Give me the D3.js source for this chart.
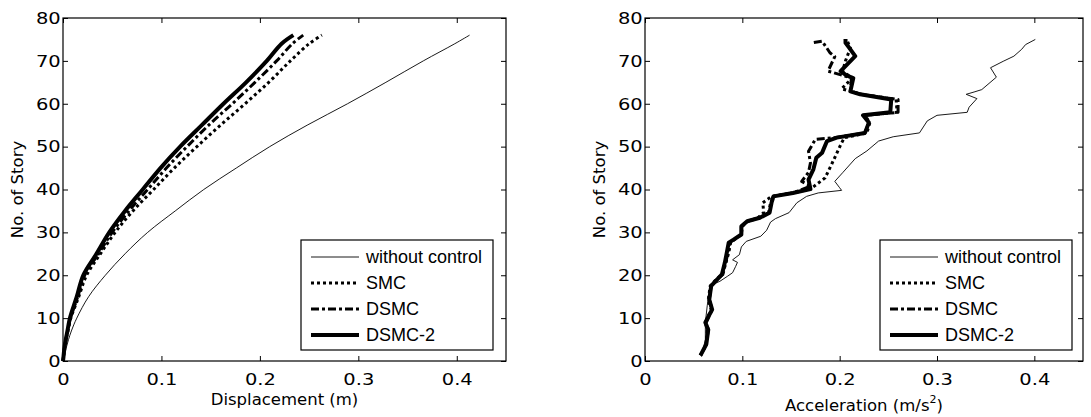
<!DOCTYPE html>
<html>
<head>
<meta charset="utf-8">
<script src="https://d3js.org/d3.v7.min.js"></script>
<style>
  body { margin: 0; background: #fff; }
  svg text { font-family: "DejaVu Sans", sans-serif; fill: #000; }
  .legend text { font-family: "Liberation Sans", Arial, sans-serif; font-size: 18px; }
</style>
</head>
<body>
<svg id="chart" width="1091" height="417"></svg>
<script>
// ---- data ----
const seriesNames = ["without control", "SMC", "DSMC", "DSMC-2"];
const xTicks = [0, 0.1, 0.2, 0.3, 0.4];
const yTicks = [0, 10, 20, 30, 40, 50, 60, 70, 80];

// displacement profiles (m) at these story levels
const dispStories = [0, 1, 3, 5, 7, 10, 15, 20, 25, 30, 35, 40, 45, 50, 55, 60, 65, 70, 74, 76];
const dispNoCtrl = [0, 0.0012, 0.0032, 0.0056, 0.0085, 0.014, 0.026, 0.043, 0.063, 0.086, 0.114, 0.143, 0.176, 0.21, 0.248, 0.289, 0.328, 0.366, 0.398, 0.413];
const dispSMC    = [0, 0.0005, 0.0015, 0.003, 0.005, 0.008, 0.016, 0.024, 0.038, 0.053, 0.071, 0.092, 0.113, 0.136, 0.16, 0.185, 0.209, 0.231, 0.25, 0.263];
const dispDSMC   = [0, 0.0005, 0.0015, 0.003, 0.0048, 0.0075, 0.015, 0.022, 0.036, 0.05, 0.067, 0.086, 0.105, 0.126, 0.148, 0.172, 0.195, 0.217, 0.233, 0.244];
const dispDSMC2  = [0, 0.0005, 0.0014, 0.0028, 0.0045, 0.007, 0.014, 0.0206, 0.034, 0.047, 0.063, 0.081, 0.099, 0.119, 0.141, 0.163, 0.186, 0.207, 0.222, 0.234];

// acceleration profiles (m/s^2), each with its own story levels
const accStoriesNoCtrl = [1, 5, 9, 13, 16, 17.8, 18.6, 19.8, 20.6, 22, 23, 23.6, 24.8, 26.6, 27.9, 29.1, 30.5, 32.4, 33.2, 34.6, 36.9, 38.4, 39.2, 39.8, 40.4, 41.9, 43.9, 47.2, 49, 51.3, 52.3, 53.2, 56, 57.3, 58, 59.2, 61.2, 62.2, 62.8, 63.3, 66.2, 68.4, 69.9, 71.1, 72.7, 73.8, 75];
const accNoCtrl        = [0.058, 0.062, 0.062, 0.064, 0.066, 0.069, 0.077, 0.085, 0.09, 0.093, 0.095, 0.09, 0.097, 0.099, 0.104, 0.119, 0.125, 0.129, 0.134, 0.148, 0.156, 0.166, 0.178, 0.202, 0.2, 0.195, 0.203, 0.216, 0.228, 0.24, 0.255, 0.282, 0.29, 0.3, 0.331, 0.333, 0.341, 0.33, 0.339, 0.346, 0.361, 0.355, 0.368, 0.379, 0.387, 0.391, 0.401];

const accStoriesSMC = [1.3, 3.9, 7.3, 9, 12, 14.3, 17.5, 19, 20.2, 22.9, 25.2, 27.6, 28.3, 29.5, 31.4, 32.6, 33.4, 34.6, 36.9, 38.4, 39.2, 40.1, 42.7, 46, 50.9, 52.1, 53.2, 55.6, 57.3, 58, 61, 62.2, 63.5, 66, 67.6, 70, 73, 75.1];
const accSMC        = [0.057, 0.063, 0.064, 0.062, 0.068, 0.065, 0.067, 0.073, 0.079, 0.083, 0.086, 0.088, 0.092, 0.099, 0.1, 0.106, 0.116, 0.122, 0.121, 0.13, 0.152, 0.17, 0.185, 0.192, 0.202, 0.205, 0.228, 0.231, 0.226, 0.259, 0.258, 0.222, 0.202, 0.213, 0.203, 0.206, 0.211, 0.207];

const accStoriesDSMC = [1.3, 3.9, 7.3, 9, 12, 14.3, 17.5, 19, 20.2, 22.9, 25.2, 27.6, 28.3, 29.5, 31.4, 32.6, 33.4, 34.6, 36.9, 38.4, 39.2, 40.8, 41.9, 44, 46.2, 48.9, 51.7, 52.1, 53.2, 55.6, 57.3, 58, 61, 62.2, 63, 66, 67.3, 67.6, 71, 71.9, 74.6, 74.2];
const accDSMC        = [0.057, 0.063, 0.065, 0.063, 0.069, 0.066, 0.068, 0.074, 0.08, 0.083, 0.085, 0.087, 0.091, 0.099, 0.099, 0.105, 0.118, 0.127, 0.129, 0.132, 0.152, 0.17, 0.161, 0.168, 0.17, 0.168, 0.175, 0.195, 0.226, 0.23, 0.225, 0.26, 0.26, 0.222, 0.211, 0.212, 0.193, 0.188, 0.195, 0.19, 0.182, 0.171];

const accStoriesDSMC2 = [1.3, 3.9, 7.3, 9, 12, 14.3, 17.5, 19, 20.2, 22.9, 25.2, 27.6, 28.3, 29.5, 31.4, 32.6, 33.4, 34.6, 36.9, 38.4, 39.2, 40.1, 42.3, 44.7, 47.4, 48.6, 51.3, 52.1, 53.2, 55.6, 57.3, 58, 61, 62.2, 62.9, 66, 66.6, 67.6, 71.1, 72.7, 74.2, 75.1];
const accDSMC2        = [0.057, 0.063, 0.065, 0.062, 0.069, 0.066, 0.068, 0.074, 0.079, 0.082, 0.084, 0.086, 0.091, 0.099, 0.099, 0.105, 0.118, 0.128, 0.13, 0.132, 0.152, 0.17, 0.168, 0.173, 0.176, 0.182, 0.187, 0.197, 0.226, 0.23, 0.224, 0.252, 0.253, 0.221, 0.211, 0.214, 0.207, 0.201, 0.216, 0.211, 0.206, 0.206];

// line styles per series
const styles = [
  { width: 0.9, dash: null },
  { width: 3, dash: "3,3" },
  { width: 3, dash: "8,3,3,3" },
  { width: 4, dash: null }
];

const svg = d3.select("#chart");
const fmt = d => d === 0 ? "0" : d3.format(".1f")(d);

function panel(opts) {
  const x = d3.scaleLinear().domain([0, 0.45]).range([opts.left, opts.right]);
  const y = d3.scaleLinear().domain([0, 80]).range([opts.bottom, opts.top]);
  const g = svg.append("g");

  // axes, ticks inward on all four sides
  const bottom = g.append("g").attr("transform", `translate(0,${opts.bottom})`)
    .call(d3.axisBottom(x).tickValues(xTicks).tickFormat(fmt).tickSizeInner(-5).tickSizeOuter(0).tickPadding(10));
  g.append("g").attr("transform", `translate(${opts.left},0)`)
    .call(d3.axisLeft(y).tickValues(yTicks).tickSizeInner(-5).tickSizeOuter(0).tickPadding(2));
  g.append("g").attr("transform", `translate(0,${opts.top})`)
    .call(d3.axisTop(x).tickValues(xTicks).tickFormat("").tickSizeInner(-5).tickSizeOuter(0));
  g.append("g").attr("transform", `translate(${opts.right},0)`)
    .call(d3.axisRight(y).tickValues(yTicks).tickFormat("").tickSizeInner(-5).tickSizeOuter(0));
  g.selectAll(".domain").remove();
  g.selectAll(".tick line").attr("stroke", "#000");
  // the reference digits are wide: stretch tick labels horizontally
  g.selectAll(".tick text").attr("font-size", 16.5).attr("transform", "scale(1.18,1)");
  bottom.selectAll(".tick text").attr("dy", "0.85em");

  g.append("rect")
    .attr("x", opts.left).attr("y", opts.top)
    .attr("width", opts.right - opts.left).attr("height", opts.bottom - opts.top)
    .attr("fill", "none").attr("stroke", "#000").attr("stroke-width", 1.2);

  // series
  const line = d3.line().curve(opts.curve).x(d => x(d[1])).y(d => y(d[0]));
  opts.series.forEach((s, i) => {
    const pts = d3.zip(s[0], s[1]);
    g.append("path")
      .datum(pts)
      .attr("d", line)
      .attr("fill", "none")
      .attr("stroke", "#000")
      .attr("stroke-width", styles[i].width)
      .attr("stroke-dasharray", styles[i].dash)
      .attr("stroke-linejoin", "round");
  });

  // axis titles
  g.append("text")
    .attr("transform", `translate(${opts.left - 40},${(opts.top + opts.bottom) / 2}) rotate(-90)`)
    .attr("text-anchor", "middle").attr("font-size", 16.5)
    .text("No. of Story");
  const xt = g.append("text")
    .attr("x", (opts.left + opts.right) / 2).attr("y", opts.xTitleY)
    .attr("text-anchor", "middle").attr("font-size", 16.5);
  xt.append("tspan").text(opts.xTitle);
  if (opts.sup) {
    xt.append("tspan").attr("font-size", 11).attr("dy", -8).text(opts.sup);
    xt.append("tspan").attr("dy", 8).text(")");
  }

  // legend
  const lg = g.append("g").attr("class", "legend")
    .attr("transform", `translate(${opts.legendX},240)`);
  lg.append("rect").attr("width", 192).attr("height", 110)
    .attr("fill", "#fff").attr("stroke", "#000").attr("stroke-width", 1.2);
  seriesNames.forEach((name, i) => {
    const cy = 17 + i * 26;
    lg.append("line")
      .attr("x1", 10).attr("x2", 58).attr("y1", cy).attr("y2", cy)
      .attr("stroke", "#000")
      .attr("stroke-width", styles[i].width)
      .attr("stroke-dasharray", styles[i].dash);
    lg.append("text").attr("x", 65).attr("y", cy).attr("dy", "0.35em").text(name);
  });
}

panel({
  left: 63, right: 506, top: 18, bottom: 361, curve: d3.curveCatmullRom,
  xTitle: "Displacement (m)", xTitleY: 405, legendX: 301,
  series: [[dispStories, dispNoCtrl], [dispStories, dispSMC], [dispStories, dispDSMC], [dispStories, dispDSMC2]]
});
panel({
  left: 645, right: 1083, top: 18, bottom: 361, curve: d3.curveLinear,
  xTitle: "Acceleration (m/s", sup: "2", xTitleY: 411, legendX: 880,
  series: [[accStoriesNoCtrl, accNoCtrl], [accStoriesSMC, accSMC], [accStoriesDSMC, accDSMC], [accStoriesDSMC2, accDSMC2]]
});
</script>
</body>
</html>
